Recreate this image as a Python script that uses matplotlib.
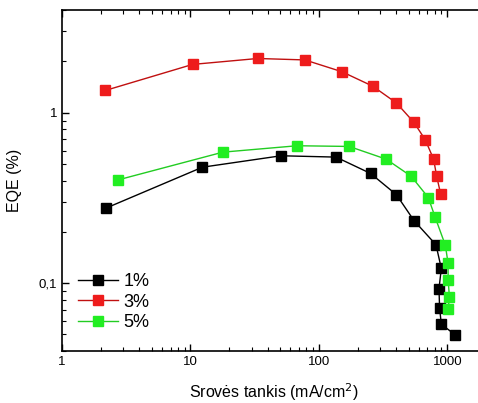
import matplotlib

matplotlib.use("Agg")
import matplotlib.pyplot as plt
from matplotlib.ticker import FuncFormatter, LogLocator, NullFormatter

plt.rcParams["font.family"] = ["Liberation Sans", "DejaVu Sans"]

# current density (mA/cm2) and EQE (%)
x_1 = [2.21, 12.4, 50.8, 136, 253, 402, 550, 816, 898, 861, 871, 898, 1155]
eqe_1 = [0.276, 0.479, 0.559, 0.549, 0.44, 0.33, 0.233, 0.168, 0.122, 0.0926, 0.0713, 0.0574, 0.0497]

x_3 = [2.17, 10.4, 33.4, 77.8, 151, 263, 402, 550, 673, 782, 826, 887]
eqe_3 = [1.35, 1.92, 2.08, 2.04, 1.74, 1.43, 1.14, 0.877, 0.694, 0.534, 0.424, 0.334]

x_5 = [2.75, 17.9, 67.7, 172, 334, 523, 711, 802, 965, 1012, 1016, 1038, 1016]
eqe_5 = [0.404, 0.587, 0.64, 0.634, 0.534, 0.424, 0.318, 0.245, 0.167, 0.132, 0.104, 0.083, 0.071]

series = [
    ("1%", x_1, eqe_1, "#000000", "#000000"),
    ("3%", x_3, eqe_3, "#c01010", "#ee1c1c"),
    ("5%", x_5, eqe_5, "#22cc22", "#22ee22"),
]

fig = plt.figure(figsize=(4.78, 4.03), dpi=100)
ax = fig.add_axes([0.1297, 0.129, 0.887, 0.846])

for label, xs, ys, lc, mc in series:
    ax.plot(xs, ys, color=lc, linewidth=1.0, marker="s", markersize=7.5,
            markerfacecolor=mc, markeredgecolor=mc, label=label)

ax.set_xscale("log")
ax.set_yscale("log")
ax.set_xlim(1, 2000)
ax.set_ylim(0.04, 4)

ax.xaxis.set_major_formatter(FuncFormatter(lambda v, p: f"{v:g}"))
ax.xaxis.set_minor_formatter(NullFormatter())
ax.yaxis.set_major_locator(LogLocator(base=10))
ax.yaxis.set_major_formatter(FuncFormatter(lambda v, p: f"{v:g}".replace(".", ",")))
ax.yaxis.set_minor_formatter(NullFormatter())

ax.tick_params(which="both", direction="in", top=True, right=True, labelsize=9.5)
ax.tick_params(which="major", length=5, width=1)
ax.tick_params(which="minor", length=3, width=0.8)
for sp in ax.spines.values():
    sp.set_linewidth(1.2)

ax.set_xlabel("Srovės tankis (mA/cm$^2$)", fontsize=11.5, labelpad=10)
ax.set_ylabel("EQE (%)", fontsize=11.5, labelpad=12)

ax.legend(loc="lower left", bbox_to_anchor=(0.0, 0.01), frameon=False,
          fontsize=13, handlelength=2.2, handletextpad=0.3, labelspacing=0.2)

fig.savefig("out.png", dpi=100)
